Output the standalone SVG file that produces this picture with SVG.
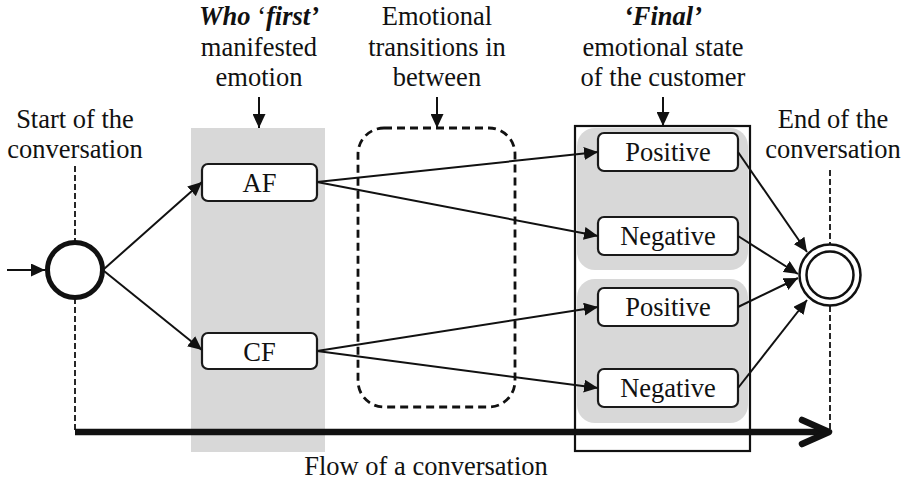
<svg xmlns="http://www.w3.org/2000/svg" width="907" height="483" viewBox="0 0 907 483">
<style>
text{font-family:"Liberation Serif","DejaVu Serif","Times New Roman",Times,serif;font-size:26.5px;fill:#111;text-anchor:middle}
.bi{font-weight:bold;font-style:italic}
.box{fill:#fff;stroke:#1a1a1a;stroke-width:2.2}
.gray{fill:#d8d8d8;stroke:none}
.c{fill:none;stroke:#111;stroke-width:2}
.dv{fill:none;stroke:#111;stroke-width:1.8;stroke-dasharray:6 3}
</style>
<defs>
<marker id="ah" markerUnits="userSpaceOnUse" markerWidth="15" markerHeight="13" refX="14" refY="6.5" orient="auto">
<path d="M0,0 L14,6.5 L0,13 Z" fill="#111"/>
</marker>
</defs>
<g id="backgrounds">
<rect class="gray" x="191" y="128" width="134" height="324"/>
</g>
<g id="labels" font-family="Liberation Serif, DejaVu Serif, serif">
<text x="75" y="128">Start of the</text>
<text x="75" y="158">conversation</text>
<text x="259" y="25" class="bi">Who <tspan font-weight="normal" font-style="normal">‘</tspan>first’</text>
<text x="259" y="56">manifested</text>
<text x="259" y="86">emotion</text>
<text x="437" y="25">Emotional</text>
<text x="437" y="56">transitions in</text>
<text x="437" y="86">between</text>
<text x="663" y="25" class="bi">‘Final’</text>
<text x="663" y="56">emotional state</text>
<text x="663" y="86">of the customer</text>
<text x="833" y="128">End of the</text>
<text x="833" y="158">conversation</text>
<text x="426" y="475">Flow of a conversation</text>
</g>
<g id="transitions">
<rect x="358" y="128" width="157" height="279" rx="26" fill="none" stroke="#111" stroke-width="2.8" stroke-dasharray="8 5"/>
</g>
<g id="final">
<rect x="575" y="126" width="175" height="325" fill="none" stroke="#111" stroke-width="2.2"/>
<rect class="gray" x="577" y="128" width="171" height="142" rx="18"/>
<rect class="gray" x="577" y="279" width="171" height="144" rx="18"/>
</g>
<g id="start">
<circle cx="75" cy="270" r="27.5" fill="#fff" stroke="#111" stroke-width="5"/>
</g>
<g id="end">
<circle cx="830" cy="275" r="30.5" fill="#fff" stroke="#111" stroke-width="2.5"/>
<circle cx="830" cy="275" r="23.5" fill="none" stroke="#111" stroke-width="2.5"/>
</g>
<g id="AF">
<rect class="box" x="202" y="164" width="115" height="37" rx="6"/>
<text x="259.5" y="192">AF</text>
</g>
<g id="CF">
<rect class="box" x="202" y="333" width="115" height="36" rx="6"/>
<text x="259.5" y="361">CF</text>
</g>
<g id="pos1">
<rect class="box" x="598" y="133" width="140" height="38" rx="6"/>
<text x="668" y="161">Positive</text>
</g>
<g id="neg1">
<rect class="box" x="598" y="217" width="140" height="38" rx="6"/>
<text x="668" y="245">Negative</text>
</g>
<g id="pos2">
<rect class="box" x="598" y="288" width="140" height="38" rx="6"/>
<text x="668" y="316">Positive</text>
</g>
<g id="neg2">
<rect class="box" x="598" y="369" width="140" height="38" rx="6"/>
<text x="668" y="397">Negative</text>
</g>
<g id="connectors">
<line class="dv" x1="75" y1="166" x2="75" y2="242"/>
<line class="dv" x1="75" y1="298" x2="75" y2="432"/>
<line class="dv" x1="830" y1="170" x2="830" y2="244"/>
<line class="dv" x1="830" y1="306" x2="830" y2="432"/>
<line x1="75" y1="432" x2="828" y2="432" stroke="#111" stroke-width="6.5"/>
<polyline points="802,420 829,432 802,444" fill="none" stroke="#111" stroke-width="6.5" stroke-linecap="round" stroke-linejoin="round"/>
<line class="c" x1="7" y1="270" x2="45" y2="270" marker-end="url(#ah)"/>
<line class="c" x1="104" y1="269" x2="202" y2="182" marker-end="url(#ah)"/>
<line class="c" x1="104" y1="271" x2="202" y2="350" marker-end="url(#ah)"/>
<line class="c" x1="317" y1="182" x2="598" y2="152" marker-end="url(#ah)"/>
<line class="c" x1="317" y1="182" x2="598" y2="236" marker-end="url(#ah)"/>
<line class="c" x1="317" y1="351" x2="598" y2="307" marker-end="url(#ah)"/>
<line class="c" x1="317" y1="351" x2="598" y2="388" marker-end="url(#ah)"/>
<line class="c" x1="738" y1="152" x2="807" y2="252" marker-end="url(#ah)"/>
<line class="c" x1="738" y1="236" x2="798" y2="274" marker-end="url(#ah)"/>
<line class="c" x1="738" y1="307" x2="798" y2="278" marker-end="url(#ah)"/>
<line class="c" x1="738" y1="388" x2="807" y2="300" marker-end="url(#ah)"/>
<line class="c" x1="259" y1="97" x2="259" y2="128" marker-end="url(#ah)"/>
<line class="c" x1="437" y1="97" x2="437" y2="128" marker-end="url(#ah)"/>
<line class="c" x1="663" y1="97" x2="663" y2="126" marker-end="url(#ah)"/>
</g>
</svg>
